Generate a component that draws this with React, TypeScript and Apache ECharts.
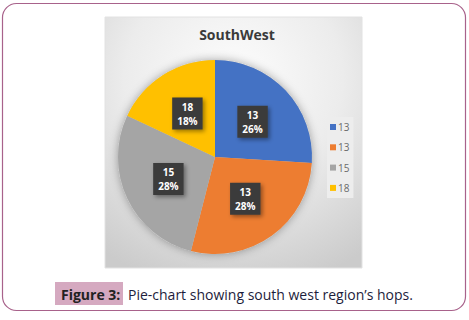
import React, { useEffect, useRef } from "react";
import * as echarts from "echarts";

const categories = ["13", "13", "15", "18"];
const shares = [26, 28, 28, 18];
const colors = ["#4472C4", "#ED7D31", "#A5A5A5", "#FFC000"];
const titleText = "SouthWest";
const captionLabel = "Figure 3:";
const captionText = "Pie-chart showing south west region\u2019s hops.";

export default function App() {
  const ref = useRef<HTMLDivElement>(null);
  useEffect(() => {
    document.body.style.margin = "0";
    const chart = echarts.init(ref.current!, null, { renderer: "svg" });
    const data = categories.map((c, i) => ({
      name: `${c}#${i}`,
      value: shares[i],
      itemStyle: { color: colors[i] },
    }));
    chart.setOption({
      animation: false,
      backgroundColor: "#ffffff",
      title: {
        text: titleText,
        left: 232,
        textAlign: "center",
        top: 22,
        textStyle: { fontFamily: "Open Sans", fontWeight: "bold", fontSize: 14, color: "#3a3a3a" },
      },
      legend: {
        orient: "vertical",
        left: 327,
        top: 117,
        padding: [4, 4, 4, 3],
        backgroundColor: "#ededed",
        icon: "rect",
        itemWidth: 6,
        itemHeight: 6,
        itemGap: 8.3,
        selectedMode: false,
        formatter: (n: string) => n.split("#")[0],
        textStyle: { fontFamily: "Open Sans", fontSize: 10, color: "#6a6a6a", lineHeight: 12, padding: [0, 0, 0, -3] },
        data: data.map((d) => d.name),
      },
      graphic: [
        {
          type: "rect",
          z: -10,
          shape: { x: 2.5, y: 3.5, width: 463, height: 307, r: 14 },
          style: { fill: "#ffffff", stroke: "#a8628b", lineWidth: 1.2 },
        },
        {
          type: "rect",
          z: -9,
          shape: { x: 105, y: 17, width: 257, height: 251 },
          style: {
            stroke: "#e2e2e2",
            lineWidth: 1,
            fill: {
              type: "radial",
              x: 0.5,
              y: 0.25,
              r: 0.85,
              colorStops: [
                { offset: 0, color: "#fdfdfd" },
                { offset: 0.5, color: "#ececec" },
                { offset: 1, color: "#cbcbcb" },
              ],
            },
          },
        },
        {
          type: "rect",
          shape: { x: 55, y: 282, width: 68, height: 23 },
          style: { fill: "#d5a9c0" },
        },
        {
          type: "text",
          x: 61,
          y: 294,
          style: {
            text: captionLabel,
            fontFamily: "Open Sans",
            fontWeight: "bold",
            fontSize: 14,
            fill: "#222222",
            verticalAlign: "middle",
          },
        },
        {
          type: "text",
          x: 128,
          y: 294,
          style: {
            text: captionText,
            fontFamily: "Open Sans",
            fontSize: 14,
            fill: "#1d1d3c",
            verticalAlign: "middle",
          },
        },
      ],
      series: [
        {
          type: "pie",
          silent: true,
          z: 1,
          center: [215, 157],
          radius: 97,
          label: { show: false },
          labelLine: { show: false },
          itemStyle: { color: "#c8c8c8", shadowBlur: 10, shadowColor: "rgba(0,0,0,0.35)" },
          data: [{ name: "shadow", value: 1 }],
          legendHoverLink: false,
        },
        {
          type: "pie",
          z: 2,
          center: [215, 157],
          radius: 97,
          startAngle: 90,
          clockwise: true,
          data,
          label: {
            show: true,
            position: "inside",
            formatter: (p: any) => `${categories[p.dataIndex]}\n${p.percent}%`,
            backgroundColor: "#3b3b3b",
            color: "#ffffff",
            fontFamily: "Open Sans",
            fontWeight: "bold",
            fontSize: 10,
            lineHeight: 14,
            padding: [2, 5],
            shadowBlur: 4,
            shadowOffsetX: 2,
            shadowOffsetY: 2,
            shadowColor: "rgba(0,0,0,0.4)",
          },
          labelLine: { show: false },
        },
      ],
    });
    return () => chart.dispose();
  }, []);
  return <div ref={ref} style={{ width: 469, height: 320 }} />;
}
